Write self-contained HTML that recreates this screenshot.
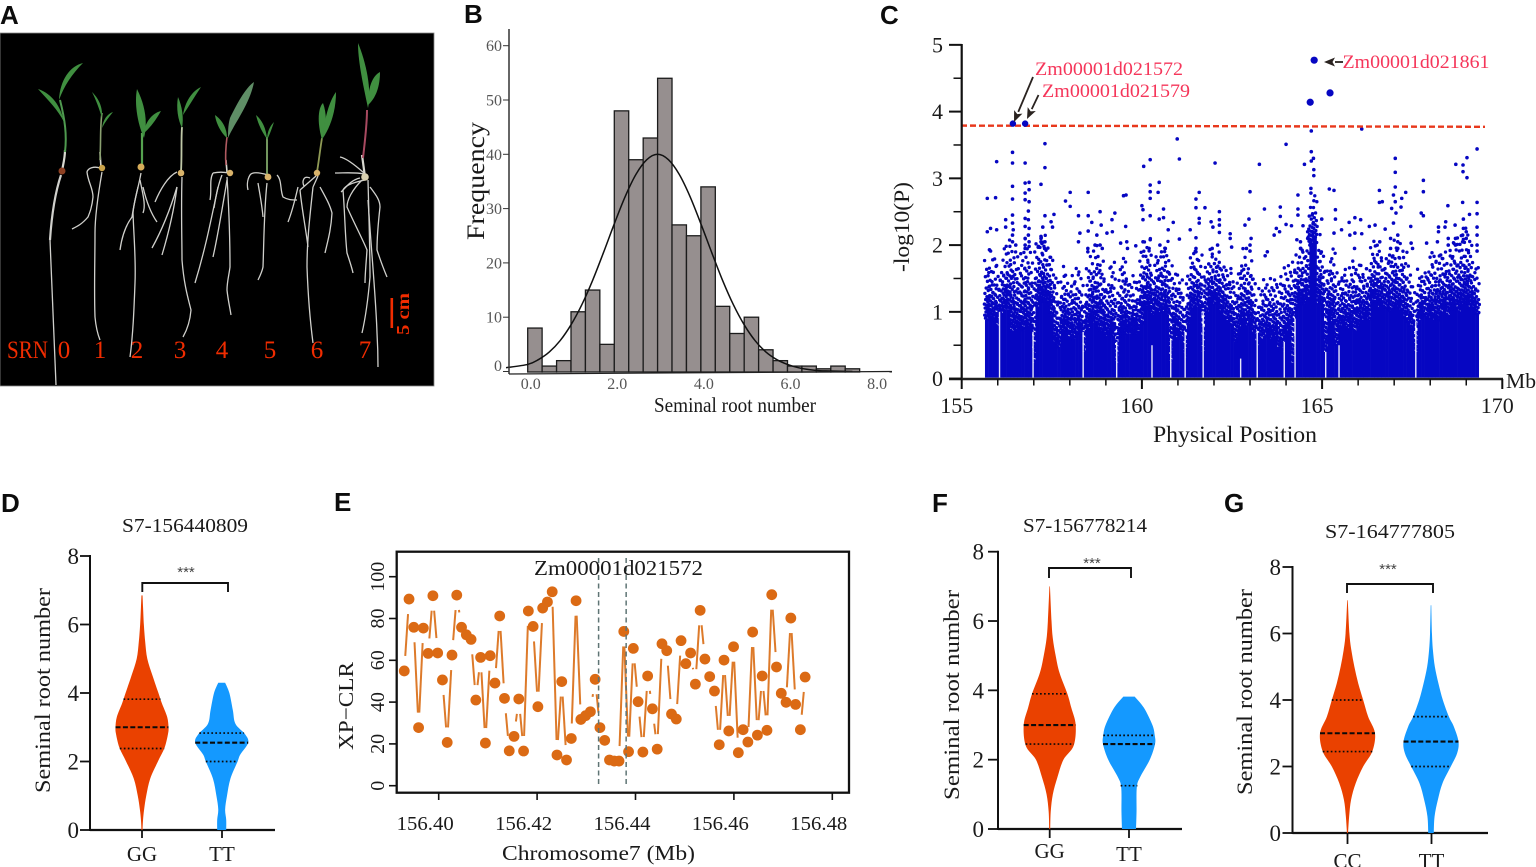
<!DOCTYPE html>
<html lang="en">
<head>
<meta charset="utf-8">
<title>Seminal root number figure</title>
<style>
html,body{margin:0;padding:0;background:#fff;width:1536px;height:867px;overflow:hidden}
svg{display:block}
text{font-family:"Liberation Serif","Noto Serif CJK SC",serif;fill:#1a1a1a}
.panel{font-family:"Liberation Sans",sans-serif;font-weight:700;font-size:26px;fill:#0c0c0c}
.srn{fill:#f02c00;font-size:25px}
.red{fill:#f5365a;font-size:19px}
.root{fill:none;stroke:#d0d0cc;stroke-width:1.3}
.stem{fill:none;stroke:#d8d8d0;stroke-width:2.2}
.leaf{fill:#3f8f41}
</style>
</head>
<body>
<svg id="fig" xmlns="http://www.w3.org/2000/svg" width="1536" height="867" viewBox="0 0 1536 867">
<defs><filter id="soft"><feGaussianBlur stdDeviation="0.35"/></filter></defs>

<text class="panel" x="0" y="24">A</text>
<text class="panel" x="464" y="23">B</text>
<text class="panel" x="880" y="24">C</text>
<text class="panel" x="1" y="512">D</text>
<text class="panel" x="334" y="511">E</text>
<text class="panel" x="932" y="512">F</text>
<text class="panel" x="1224" y="512">G</text>

<!-- Panel A photo -->
<g>
<rect x="0" y="33" width="434" height="353" fill="#000" stroke="#888" stroke-width="0.8"/>
<g filter="url(#soft)">
<g>
<path class="root" style="stroke-width:2.2" d="M61 175C56 190 52 210 50 240"/>
<path class="root" d="M50 240C52 280 54 330 56 385"/>
<path class="stem" d="M65 150C65 158 63 165 62 171"/>
<path d="M65 152C67 135 65 120 60 100" fill="none" stroke="#4f9a50" stroke-width="2"/>
<path class="leaf" d="M38 89C48 92 60 102 64 122C58 110 48 100 38 89Z"/>
<path class="leaf" d="M83 63C70 66 60 80 59 100C64 86 72 74 83 63Z"/>
<circle cx="62" cy="171" r="3.5" fill="#8e3f22"/>
</g>
<g>
<path class="root" d="M102 172C98 195 95 215 95 233C95 260 94 290 95 317C96 328 98 335 100 340"/>
<path class="root" d="M100 168C94 166 88 168 87 172C88 182 93 188 93 197C92 207 90 212 88 217C82 224 78 226 72 229"/>
<path class="stem" style="stroke-width:1.6" d="M100 152L101 168"/>
<path d="M100 160C101 140 100 125 102 113" fill="none" stroke="#8aa070" stroke-width="1.6"/>
<path class="leaf" d="M92 92C98 98 103 106 102 118C99 108 96 100 92 92Z"/>
<path class="leaf" d="M113 112C107 114 103 120 102 128C105 122 109 117 113 112Z"/>
<circle cx="102" cy="168" r="3.2" fill="#c9a24a"/>
</g>
<g>
<path class="root" d="M141 173C138 190 134 200 133 213C134 240 136 260 135 283C134 310 133 335 130 357"/>
<path class="root" d="M138 187C135 200 133 210 132 217C126 225 122 235 120 250"/>
<path class="root" d="M143 187C146 200 150 212 157 222"/>
<path class="root" d="M140 180C143 195 146 205 143 213"/>
<path d="M142 165L142 133" stroke="#54a24f" stroke-width="2.2" fill="none"/>
<path class="leaf" d="M137 89C134 104 138 125 144 138C148 122 145 105 137 89Z"/>
<path class="leaf" d="M161 111C153 113 146 120 143 134C150 128 156 120 161 111Z"/>
<circle cx="141" cy="167" r="3.5" fill="#d6ad5a"/>
</g>
<g>
<path class="root" d="M182 177C181 210 182 240 182 260C184 285 188 298 191 310C190 322 187 330 183 337"/>
<path class="root" d="M177 187C170 210 162 230 152 248"/>
<path class="root" d="M177 187C174 210 168 235 162 255"/>
<path class="root" d="M177 172C168 176 160 190 155 202"/>
<path d="M181 172C182 155 181 140 182 127" fill="none" stroke="#c0c8a8" stroke-width="1.8"/>
<path class="leaf" d="M178 97C176 108 178 120 182 128C184 118 182 106 178 97Z"/>
<path class="leaf" d="M201 87C192 91 185 102 183 115C189 106 195 96 201 87Z"/>
<circle cx="181" cy="173" r="3.3" fill="#d9b36a"/>
</g>
<g>
<path class="root" d="M227 177C229 210 230 240 230 267C229 275 227 282 227 290C228 300 230 308 231 315"/>
<path class="root" d="M218 187C210 225 205 250 195 283"/>
<path class="root" d="M227 180C222 210 218 235 213 257"/>
<path class="root" d="M213 173C209 180 212 190 210 200"/>
<path class="root" d="M222 175C218 185 216 195 214 208"/>
<path class="root" d="M213 173C218 172 224 172 229 173"/>
<path class="stem" style="stroke-width:1.6" d="M226 160L227 172"/>
<path d="M226 165C225 155 226 145 227 137" fill="none" stroke="#b05a60" stroke-width="1.6"/>
<path class="leaf" d="M215 115C216 124 222 134 227 138C227 128 222 120 215 115Z"/>
<path d="M254 82C245 88 236 106 230 118C228 125 228 132 228 138C234 124 250 104 254 82Z" fill="#5f8e66"/>
<circle cx="230" cy="173" r="3.2" fill="#d9b36a"/>
</g>
<g>
<path class="root" d="M267 183C264 210 264 240 263 267C262 272 260 276 258 280"/>
<path class="root" d="M268 175C258 172 252 172 250 175C247 180 247 186 248 190"/>
<path class="root" d="M277 175C282 180 280 190 283 197C288 200 292 200 297 200"/>
<path class="root" d="M258 183C260 195 262 205 263 217"/>
<path d="M267 175L267 137" stroke="#7fa867" stroke-width="1.8" fill="none"/>
<path class="leaf" d="M256 115C258 124 262 132 267 139C266 128 262 120 256 115Z"/>
<path class="leaf" d="M274 122C270 126 267 132 267 140C270 134 272 128 274 122Z"/>
<circle cx="268" cy="177" r="3.4" fill="#d9b36a"/>
</g>
<g>
<path class="root" d="M313 187C310 215 307 240 307 267C308 295 310 320 313 343"/>
<path class="root" d="M300 190C302 210 306 230 308 247"/>
<path class="root" d="M298 187C295 200 292 212 288 222"/>
<path class="root" d="M320 187C326 198 330 205 332 213C331 230 328 240 325 253"/>
<path class="root" d="M310 178C303 175 302 182 304 186"/>
<path class="root" d="M316 176L300 190"/>
<path class="root" d="M318 176L313 187"/>
<path d="M317 172C319 160 320 150 322 138" fill="none" stroke="#8f9a55" stroke-width="1.8"/>
<path class="leaf" d="M323 103C318 108 317 122 322 140C327 128 327 114 323 103Z"/>
<path class="leaf" d="M336 92C330 100 324 118 323 138C331 126 336 110 336 92Z"/>
<circle cx="317" cy="173" r="3.2" fill="#d9b36a"/>
</g>
<g>
<path class="root" d="M368 180C369 220 370 250 370 277C368 300 365 320 362 333"/>
<path class="root" d="M368 200C372 260 376 300 377 333C378 350 378 360 378 367"/>
<path class="root" d="M365 180C355 182 345 185 343 190C345 215 345 235 347 253C350 262 352 268 353 273"/>
<path class="root" d="M362 180C352 190 347 200 347 207C355 225 363 240 367 250C366 265 365 275 365 283"/>
<path class="root" d="M370 187C376 195 380 200 380 207C378 225 377 240 377 250C381 262 384 270 387 277"/>
<path class="root" d="M364 173C355 165 346 158 340 157"/>
<path class="root" d="M364 174C355 172 345 173 335 173"/>
<path class="root" d="M360 178C350 180 344 190 341 192"/>
<path class="stem" d="M362 155L365 177"/>
<path d="M363 158C365 140 367 125 367 110" fill="none" stroke="#a84a60" stroke-width="2"/>
<path class="leaf" d="M358 43C358 60 362 80 368 108C372 90 366 62 358 43Z"/>
<path class="leaf" d="M380 72C372 76 368 88 368 105C376 98 380 86 380 72Z"/>
<circle cx="365" cy="177" r="3.8" fill="#d8d0b0"/>
</g>
</g>
<text class="srn" x="7" y="358" textLength="41" lengthAdjust="spacingAndGlyphs">SRN</text>
<text class="srn" x="64" y="358" text-anchor="middle">0</text>
<text class="srn" x="100" y="358" text-anchor="middle">1</text>
<text class="srn" x="137" y="358" text-anchor="middle">2</text>
<text class="srn" x="180" y="358" text-anchor="middle">3</text>
<text class="srn" x="222" y="358" text-anchor="middle">4</text>
<text class="srn" x="270" y="358" text-anchor="middle">5</text>
<text class="srn" x="317" y="358" text-anchor="middle">6</text>
<text class="srn" x="365" y="358" text-anchor="middle">7</text>
<rect x="390.5" y="298" width="2.6" height="30" fill="#f02c00"/>
<text x="409" y="335" transform="rotate(-90 409 335)" style="fill:#f02c00;font-size:18px;font-weight:700" textLength="42" lengthAdjust="spacingAndGlyphs">5 cm</text>
</g>

<!-- Panel B labels -->
<g id="panelB">
<text x="484" y="240" transform="rotate(-90 484 240)" style="font-size:25px" textLength="118" lengthAdjust="spacingAndGlyphs">Frequency</text>
<text x="654" y="412" style="font-size:21px" textLength="162" lengthAdjust="spacingAndGlyphs">Seminal root number</text>
</g>

<!-- Panel C labels -->
<g id="panelC">
<text x="909" y="272" transform="rotate(-90 909 272)" style="font-size:22px" textLength="90" lengthAdjust="spacingAndGlyphs">-log10(P)</text>
<text x="1153" y="442" style="font-size:23px" textLength="164" lengthAdjust="spacingAndGlyphs">Physical Position</text>
<text x="1506" y="388" style="font-size:21px" textLength="30" lengthAdjust="spacingAndGlyphs">Mb</text>
</g>

<!-- Panel E labels -->
<g id="panelE">
<text x="353" y="750" transform="rotate(-90 353 750)" style="font-size:21px" textLength="88" lengthAdjust="spacingAndGlyphs">XP−CLR</text>
<text x="502" y="860" style="font-size:21px" textLength="193" lengthAdjust="spacingAndGlyphs">Chromosome7 (Mb)</text>
</g>

<!-- Violin panel titles -->
<g id="panelD">
<text x="122" y="532" style="font-size:20px" textLength="126" lengthAdjust="spacingAndGlyphs">S7-156440809</text>
<text x="50" y="793" transform="rotate(-90 50 793)" style="font-size:22px" textLength="205" lengthAdjust="spacingAndGlyphs">Seminal root number</text>
</g>
<g id="panelF">
<text x="1023" y="532" style="font-size:20px" textLength="124" lengthAdjust="spacingAndGlyphs">S7-156778214</text>
<text x="959" y="800" transform="rotate(-90 959 800)" style="font-size:22px" textLength="210" lengthAdjust="spacingAndGlyphs">Seminal root number</text>
</g>
<g id="panelG">
<text x="1325" y="538" style="font-size:20px" textLength="130" lengthAdjust="spacingAndGlyphs">S7-164777805</text>
<text x="1252" y="795" transform="rotate(-90 1252 795)" style="font-size:22px" textLength="206" lengthAdjust="spacingAndGlyphs">Seminal root number</text>
</g>
</svg>

<script>
/* ---------- Panel B data ---------- */
const histBins = [0,0.333,0.667,1,1.333,1.667,2,2.333,2.667,3,3.333,3.667,4,4.333,4.667,5,5.333,5.667,6,6.333,6.667,7,7.333];
const histCounts = [8,1,2,11,15,5,48,39,43,54,27,25,34,12,7,10,4,2,1,1,0.5,1,0.5];
const histBinWidth = 0.333;
const fitX = [-0.5,0,0.25,0.5,0.75,1,1.25,1.5,1.75,2,2.25,2.5,2.75,3,3.25,3.5,3.75,4,4.25,4.5,4.75,5,5.25,5.5,5.75,6,6.25,6.5,6.75,7,7.5];
const fitY = [0.7,1.3,2.2,3.6,5.7,8.6,12.3,16.8,21.9,27.2,32.2,36.3,39,40,39,36.3,32.2,27.2,21.9,16.8,12.3,8.6,5.7,3.6,2.2,1.3,0.7,0.35,0.15,0.1,0];
const histYTicks = [0,10,20,30,40,50,60];
const histXTicks = ["0.0","2.0","4.0","6.0","8.0"];

/* ---------- Panel C data ---------- */
const columnMb = [155.7,155.8,155.9,156.0,156.1,156.2,156.3,156.4,156.5,156.6,
156.7,156.8,156.9,157.0,157.1,157.2,157.3,157.4,157.5,157.6,
157.7,157.8,157.9,158.0,158.1,158.2,158.3,158.4,158.5,158.6,
158.7,158.8,158.9,159.0,159.1,159.2,159.3,159.4,159.5,159.6,
159.7,159.8,159.9,160.0,160.1,160.2,160.3,160.4,160.5,160.6,
160.7,160.8,160.9,161.0,161.1,161.2,161.3,161.4,161.5,161.6,
161.7,161.8,161.9,162.0,162.1,162.2,162.3,162.4,162.5,162.6,
162.7,162.8,162.9,163.0,163.1,163.2,163.3,163.4,163.5,163.6,
163.7,163.8,163.9,164.0,164.1,164.2,164.3,164.4,164.5,164.6,
164.7,164.8,164.9,165.0,165.1,165.2,165.3,165.4,165.5,165.6,
165.7,165.8,165.9,166.0,166.1,166.2,166.3,166.4,166.5,166.6,
166.7,166.8,166.9,167.0,167.1,167.2,167.3,167.4,167.5,167.6,
167.7,167.8,167.9,168.0,168.1,168.2,168.3,168.4,168.5,168.6,
168.7,168.8,168.9,169.0,169.1,169.2,169.3];
const columnDense = [1.1,1.15,1.1,1.0,1.2,1.3,1.3,.9,.9,1.0,
.9,1.1,1.0,.3,1.35,1.45,1.45,1.4,1.2,.7,
.6,.9,.95,.75,.75,.85,.85,.5,.95,1.1,
1.05,.95,.9,.8,.85,.8,.3,.8,.9,.85,
.85,.85,.9,1.05,1.3,1.35,1.2,1.3,1.25,1.25,
1.2,.3,1.0,.75,.75,.4,1.0,1.3,1.35,1.35,
.5,1.25,1.45,1.4,1.45,1.25,1.15,1.1,1.0,.7,
.95,1.05,1.0,1.1,.85,.55,.75,.8,.9,.75,
.8,.6,.5,.9,1.0,.3,1.35,1.4,1.4,1.5,
2.5,2.65,1.4,1.4,.5,1.25,1.05,.65,.95,1.1,
.95,1.05,.9,1.0,1.1,1.2,1.1,1.4,1.45,1.35,
1.35,1.3,1.25,1.35,1.35,1.3,1.15,1.05,.95,.5,
1.1,1.2,1.15,1.15,1.1,1.1,1.25,1.35,1.2,1.3,
1.35,1.25,1.4,1.4,1.35,1.35,1.2];
const columnSparse = [1.85,1.95,1.8,1.7,1.7,1.95,2.1,2.1,1.95,1.8,
1.9,2.1,1.9,1.6,2.1,2.2,2.25,2.0,1.95,1.6,
1.3,1.6,1.7,1.5,1.6,1.65,1.65,1.25,1.75,1.9,
2.0,1.95,1.9,1.55,1.7,1.8,1.25,1.65,1.9,1.6,
1.55,1.45,1.5,2.05,1.95,2.2,1.65,1.9,1.9,2.05,
2.1,1.75,1.7,1.6,1.55,1.2,1.8,1.9,1.95,1.9,
1.55,1.8,2.0,1.9,1.95,1.8,1.8,1.75,1.6,1.45,
1.75,1.95,1.8,1.8,1.6,1.1,1.4,1.55,1.55,1.5,
1.5,1.5,1.7,1.6,1.7,1.8,1.9,2.0,1.95,2.2,
2.75,2.8,2.2,2.0,1.7,1.8,2.05,1.6,1.6,1.75,
1.6,1.8,1.7,1.8,1.7,1.7,1.7,2.1,2.1,2.05,
1.8,1.95,1.95,2.1,2.05,2.0,1.9,1.7,1.4,1.3,
1.65,1.7,1.6,1.9,1.95,1.9,1.9,1.9,1.95,2.1,
2.15,2.05,2.2,2.3,2.1,1.7,1.7];
const gapMb = [156.05,156.98,158.37,159.3,160.28,160.8,161.2,161.7,162.74,163.2,163.95,164.25,165.1,165.47,167.6];
const gapTop = [1.0,.7,.7,.55,.5,.6,.7,1.0,.3,.7,.55,.9,.4,.5,.85];
const looseMb = [155.71,155.71,155.80,155.77,155.97,155.94,155.97,156.22,156.22,156.41,
156.41,156.41,156.41,156.41,156.41,156.43,156.76,156.76,156.76,156.76,
156.76,156.76,156.76,156.87,156.87,156.87,156.87,156.85,156.85,156.85,
157.20,157.20,157.31,157.31,157.31,157.31,157.25,157.52,157.56,157.48,
157.13,157.88,158.01,158.01,158.24,158.24,158.28,158.51,158.51,158.51,
158.61,158.84,158.84,158.87,158.75,159.03,159.17,159.25,159.18,159.55,
159.49,159.56,159.58,159.41,159.83,160.00,160.05,160.23,160.23,160.23,
160.23,160.23,160.23,160.03,160.03,160.03,160.98,161.04,160.48,160.45,
160.60,160.60,160.48,160.87,160.73,161.04,161.34,162.03,161.59,161.50,
161.50,161.75,161.59,161.59,161.92,161.97,162.15,162.15,162.15,162.15,
161.50,162.45,162.45,162.49,162.97,162.86,163.00,163.00,163.03,163.26,
163.40,163.84,163.84,163.73,163.82,163.67,164.00,164.00,164.15,164.51,
164.70,164.70,164.76,164.70,164.77,164.77,164.33,164.33,164.33,164.47,
164.99,165.20,164.69,164.69,164.30,163.48,163.42,165.33,165.37,165.37,
165.54,165.33,165.75,165.91,166.07,165.77,165.91,166.10,166.31,166.47,
166.59,166.59,166.67,166.75,167.03,167.03,167.03,167.03,166.98,167.21,
167.32,167.19,166.93,167.05,166.98,167.46,167.47,167.51,167.81,167.81,
167.75,167.81,167.90,168.49,168.43,168.23,168.23,168.41,168.69,168.71,
168.91,168.91,169.02,169.02,168.90,169.30,169.30,169.30,169.30,169.30,
169.30,169.30,169.09,168.92,168.92,166.10,
156.41,156.41,156.5,156.76,156.76,156.87,156.87,157.2,157.2,157.3,
158.5,158.5,158.7,158.9,159.6,160.2,160.5,160.65,161.5,161.5,
161.95,162.1,162.9,163.0,164.4,164.4,164.6,164.6,165.9,166.6,
166.9,166.9,167.1,167.1,167.1,168.2,168.5,168.5,168.7,168.7,
168.9,168.9,169.0,169.0];
const looseP = [2.70,2.20,2.25,1.93,3.25,2.71,2.23,2.38,2.27,3.39,
3.23,2.88,2.69,2.45,2.33,2.23,3.23,2.93,2.78,2.68,
2.40,2.28,2.10,2.94,2.83,2.65,2.25,2.51,2.38,2.15,
2.91,2.13,3.52,3.16,2.44,2.05,2.27,2.27,2.46,2.35,
1.98,2.66,2.79,2.58,2.44,2.05,2.18,2.79,2.44,2.21,
2.34,2.50,2.00,2.30,2.15,2.18,2.38,2.48,2.20,2.28,
2.74,2.75,2.05,2.03,1.99,2.59,3.18,3.28,2.90,2.80,
2.70,2.44,2.08,2.53,2.38,2.05,3.59,3.29,2.94,2.79,
2.54,2.41,2.39,2.34,2.23,2.09,2.23,3.23,2.79,2.69,
2.56,2.56,2.40,2.33,2.35,2.27,2.50,2.38,2.30,2.19,
2.11,2.17,2.10,1.97,2.39,2.30,2.80,1.91,2.10,3.21,
2.54,2.57,2.43,2.25,2.20,2.15,3.51,2.31,2.29,3.21,
3.71,3.40,3.30,3.26,3.13,3.04,2.75,2.54,2.45,2.29,
2.39,2.84,2.85,2.78,2.08,1.90,1.84,2.82,2.53,2.39,
2.23,2.18,2.34,2.41,2.38,2.15,2.18,2.17,2.28,2.30,
2.82,2.64,2.65,2.24,3.30,3.09,2.87,2.65,2.75,2.70,
2.79,2.57,2.55,2.48,2.33,2.28,2.03,1.95,2.97,2.80,
2.48,2.44,2.03,2.59,2.35,2.27,2.20,2.27,2.30,3.21,
3.20,3.10,3.31,3.01,2.64,3.44,2.64,2.47,2.27,2.15,
2.00,1.91,2.46,2.39,2.25,3.74,
2.15,2.05,2.0,2.0,1.95,2.05,1.98,2.05,2.1,1.95,
1.95,1.9,2.0,1.95,1.95,1.95,2.0,1.95,1.95,1.9,
1.95,2.0,1.95,2.0,2.05,1.95,2.1,2.2,1.95,2.05,
2.1,1.95,2.15,2.05,1.95,2.05,2.0,2.1,2.1,2.0,
2.15,2.05,2.2,2.1];
const leadMb = [156.42,156.76,164.78,165.22,164.67];
const leadP = [3.82,3.82,4.77,4.28,4.14];
const manhattanYTicks = [0,1,2,3,4,5];
const manhattanXTicks = [155,160,165,170];

/* ---------- Panel E data ---------- */
const xpclrPos = [156.39300,156.39397,156.39494,156.39591,156.39688,156.39785,156.39882,156.39979,156.40076,156.40173,
156.40270,156.40367,156.40464,156.40561,156.40658,156.40755,156.40852,156.40949,156.41046,156.41143,
156.41240,156.41337,156.41434,156.41531,156.41628,156.41725,156.41822,156.41919,156.42016,156.42113,
156.42210,156.42307,156.42404,156.42501,156.42598,156.42695,156.42792,156.42889,156.42986,156.43083,
156.43180,156.43277,156.43374,156.43471,156.43568,156.43665,156.43762,156.43859,156.43956,156.44053,
156.44150,156.44247,156.44344,156.44441,156.44538,156.44635,156.44732,156.44829,156.44926,156.45023,
156.45120,156.45217,156.45314,156.45411,156.45508,156.45605,156.45702,156.45799,156.45896,156.45993,
156.46090,156.46187,156.46284,156.46381,156.46478,156.46575,156.46672,156.46769,156.46866,156.46963,
156.47060,156.47157,156.47254,156.47351,156.47448];
const xpclrValues = [54.9,89.3,75.8,27.8,75.4,63.3,90.9,63.5,50.6,20.7,
62.5,91.2,75.8,72.2,70,41,61.4,20.4,62.2,49.1,
81.2,41.8,16.7,23.6,41.5,16.6,83.6,76.2,37.8,85,
87.9,92.8,14.7,49.8,12.3,22.6,88.5,31.7,33.5,35.4,
50.9,27.8,21.7,12.3,11.8,11.8,73.8,16.3,65.7,40.2,
16.1,52.5,36.8,17.5,67.9,64.6,34.3,31.9,69.4,58.4,
63.5,48.6,83.9,60.6,52.2,45.3,19.6,60.1,26.2,66.5,
15.8,26.8,20.9,73.5,24.2,52.5,26.5,91.4,56.8,44.2,
39.9,80.2,38.9,26.8,52];
const xpclrXTicks = [156.40,156.42,156.44,156.46,156.48];
const xpclrXLabels = ["156.40","156.42","156.44","156.46","156.48"];
const xpclrYTicks = [0,20,40,60,80,100];
const xpclrRegion = [156.4325,156.4381];

/* ---------- Violin data ---------- */
const violinTicks = [0,2,4,6,8];
const dGGLevels = [0,0.3,0.6,1,1.5,2,2.4,2.8,3,3.3,3.7,4,4.5,5,5.5,6,6.5,6.85];
const dGGDensity = [.02,.04,.08,.16,.31,.6,.85,.98,1,.95,.75,.62,.4,.2,.12,.07,.04,.02];
const dGGQuartiles = [2.38,3.0,3.82];
const dTTLevels = [0,0.3,0.6,1,1.5,2,2.2,2.55,2.8,3.1,3.5,4,4.3];
const dTTDensity = [.17,.17,.13,.2,.33,.6,.7,1,.88,.52,.42,.29,.13];
const dTTQuartiles = [2.0,2.55,2.83];
const fGGLevels = [0,0.5,1,1.5,2,2.4,3,3.5,3.9,4.5,5,5.5,6,7];
const fGGDensity = [.02,.04,.12,.3,.53,.92,1,.83,.68,.38,.23,.12,.07,.01];
const fGGQuartiles = [2.45,3.0,3.9];
const fTTLevels = [0,0.5,1.2,1.5,2,2.45,2.7,3,3.5,3.82];
const fTTDensity = [.27,.29,.3,.43,.8,1,.99,.9,.57,.22];
const fTTQuartiles = [1.25,2.45,2.7];
const gCCLevels = [0,0.5,1,1.5,2,2.45,3,3.5,4,4.5,5,5.5,6,7];
const gCCDensity = [.02,.06,.13,.3,.57,.9,1,.75,.57,.39,.25,.14,.07,.01];
const gCCQuartiles = [2.45,3.0,4.0];
const gTTLevels = [0,0.5,1,1.5,2,2.4,2.75,3.2,3.5,4,4.5,5,5.5,6,6.85];
const gTTDensity = [.1,.13,.25,.42,.72,.95,1,.83,.65,.43,.27,.14,.07,.035,.01];
const gTTQuartiles = [2.0,2.75,3.5];

/* ---------- helpers ---------- */
const NS = "http://www.w3.org/2000/svg";
function mk(parent, tag, attrs, txt){
  const el = document.createElementNS(NS, tag);
  for (const k in attrs) el.setAttribute(k, attrs[k]);
  if (txt !== undefined) el.textContent = txt;
  parent.appendChild(el);
  return el;
}
function smooth(pts){
  let d = "M" + pts[0][0].toFixed(2) + " " + pts[0][1].toFixed(2);
  for (let i = 0; i < pts.length - 1; i++){
    const p0 = pts[Math.max(i-1,0)], p1 = pts[i], p2 = pts[i+1], p3 = pts[Math.min(i+2,pts.length-1)];
    d += "C" + (p1[0]+(p2[0]-p0[0])/6).toFixed(2) + " " + (p1[1]+(p2[1]-p0[1])/6).toFixed(2) + " " +
         (p2[0]-(p3[0]-p1[0])/6).toFixed(2) + " " + (p2[1]-(p3[1]-p1[1])/6).toFixed(2) + " " +
         p2[0].toFixed(2) + " " + p2[1].toFixed(2);
  }
  return d;
}
function interp(xs, ys, x){
  for (let i = 0; i < xs.length - 1; i++){
    if (x >= xs[i] && x <= xs[i+1]) return ys[i] + (ys[i+1]-ys[i])*(x-xs[i])/(xs[i+1]-xs[i]);
  }
  return 0;
}

/* ---------- Panel B ---------- */
(function(){
  const g = document.getElementById("panelB");
  const bx = v => 527.7 + 43.3*v;
  const by = v => 371.5 - 5.43*v;
  histBins.forEach((b,i) => {
    const r = mk(g,"rect",{x:bx(b),y:by(histCounts[i]),width:bx(b+histBinWidth)-bx(b),height:372-by(histCounts[i]),fill:"#968f8f",stroke:"#1c1c1c","stroke-width":1.3});
    
    
  });
  const curve = mk(g,"path",{d:smooth(fitX.map((x,i)=>[bx(x),by(fitY[i])])),fill:"none",stroke:"#111","stroke-width":1.5});
  
  
  const ya = mk(g,"line",{x1:509,y1:29,x2:509,y2:374,stroke:"#333","stroke-width":1.5});
  
  
  const xa = mk(g,"line",{x1:509,y1:374,x2:892,y2:371.5,stroke:"#222","stroke-width":1.2});
  
  
  histYTicks.forEach(t => {
    const y = by(t);
    const tk = mk(g,"line",{x1:503,y1:y,x2:509,y2:y,stroke:"#333","stroke-width":1});
    
    
    const tl = mk(g,"text",{x:502,y:(t===0?y-6:y)+5.5,"text-anchor":"end",style:"font-size:16px;fill:#555"},String(t));
    
    
  });
  histXTicks.forEach((t,i) => {
    const tl = mk(g,"text",{x:bx(parseFloat(t))+3,y:389,"text-anchor":"middle",style:"font-size:16px;fill:#555"},t);
    
    
  });
})();

/* ---------- Panel C ---------- */
(function(){
  const g = document.getElementById("panelC");
  const mx = v => 961.7 + 36.04*(v-155);
  const my = v => 378.6 - 66.75*v;
  const blue = "#0606c2";
  const wob = n => (n*0.6180339) % 1;
  const wob2 = n => (n*0.7548777) % 1;
  let n = 1;
  columnMb.forEach((m,i) => {
    const rodTop = columnDense[i]*0.8;
    const c = mk(g,"line",{x1:mx(m),y1:my(0)-1,x2:mx(m),y2:my(rodTop),stroke:blue,"stroke-width":3.9});
    
    
    let p = rodTop;
    while (p < columnSparse[i]){
      const frac = (p-rodTop)/Math.max(columnSparse[i]-rodTop,0.01);
      const d = mk(g,"circle",{cx:mx(m)+(wob(n)-0.5)*5.4,cy:my(p),r:1.7,fill:blue});
      
      
      p += (0.02 + 0.12*frac*frac)*(0.45+1.1*wob2(n));
      n++;
    }
  });
  gapMb.forEach((m,i) => {
    const w = mk(g,"line",{x1:mx(m),y1:my(0)-1,x2:mx(m),y2:my(gapTop[i]),stroke:"#fff","stroke-width":1.4,"stroke-opacity":0.9});
    
    
  });
  looseMb.forEach((m,i) => {
    const d = mk(g,"circle",{cx:mx(m),cy:my(looseP[i]),r:1.8,fill:blue});
    
    
  });
  const thr = mk(g,"line",{x1:961,y1:125.6,x2:1485,y2:126.8,stroke:"#e8381c","stroke-width":2.4,"stroke-dasharray":"6 3"});
  
  
  leadMb.forEach((m,i) => {
    const d = mk(g,"circle",{cx:mx(m),cy:my(leadP[i]),r:i<2?3.2:3.6,fill:blue});
    
    
  });
  const ya = mk(g,"line",{x1:961.7,y1:44,x2:961.7,y2:380,stroke:"#111","stroke-width":2.2});
  
  
  const xa = mk(g,"line",{x1:949,y1:379,x2:1503,y2:379,stroke:"#222","stroke-width":2.4});
  
  
  for (let v = 0; v <= 5; v += 0.5){
    const major = Number.isInteger(v);
    const t = mk(g,"line",{x1:major?949:953.5,y1:my(v),x2:961.7,y2:my(v),stroke:"#111","stroke-width":major?2:1.5});
    
    
  }
  manhattanYTicks.forEach(v => {
    const l = mk(g,"text",{x:943,y:my(v)+7.5,"text-anchor":"end",style:"font-size:22px"},String(v));
    
    
  });
  for (let v = 155; v <= 170; v++){
    const major = v % 5 === 0;
    const t = mk(g,"line",{x1:mx(v),y1:379,x2:mx(v),y2:major?389:385.5,stroke:"#111","stroke-width":major?2:1.5});
    
    
  }
  manhattanXTicks.forEach(v => {
    const l = mk(g,"text",{x:mx(v)-5,y:413,"text-anchor":"middle",style:"font-size:22px"},String(v));
    
    
  });
  const labels = [["Zm00001d021572",1035,75,148],["Zm00001d021579",1042,97,148],["Zm00001d021861",1342.5,68,147]];
  labels.forEach(a => {
    const l = mk(g,"text",{class:"red",x:a[1],y:a[2],textLength:a[3],lengthAdjust:"spacingAndGlyphs"},a[0]);
    
    
  });
  const arrows = [[1033,77,1014,122],[1038.5,95,1027,119],[1343,62,1324,62]];
  arrows.forEach(a => {
    const dx = a[2]-a[0], dy = a[3]-a[1], len = Math.hypot(dx,dy), ux = dx/len, uy = dy/len;
    const bx = a[2]-ux*11, by = a[3]-uy*11;
    const s = mk(g,"line",{x1:a[0],y1:a[1],x2:bx,y2:by,stroke:"#2a2320","stroke-width":1.8});
    
    
    const h = mk(g,"polygon",{points:a[2]+","+a[3]+" "+(bx-uy*4.5)+","+(by+ux*4.5)+" "+(bx+ux*2.5)+","+(by+uy*2.5)+" "+(bx+uy*4.5)+","+(by-ux*4.5),fill:"#2a2320"});
    
    
  });
})();

/* ---------- Panel E ---------- */
(function(){
  const g = document.getElementById("panelE");
  const ex = v => 438.7 + 4920*(v-156.40);
  const ey = v => 785.7 - 2.09*v;
  const frame = mk(g,"rect",{x:396.7,y:551.7,width:452.3,height:241,fill:"none",stroke:"#111","stroke-width":2.3});
  
  
  const gap = 15;
  for (let i = 0; i < xpclrPos.length-1; i++){
    const x1 = ex(xpclrPos[i]), y1 = ey(xpclrValues[i]), x2 = ex(xpclrPos[i+1]), y2 = ey(xpclrValues[i+1]);
    const len = Math.hypot(x2-x1,y2-y1);
    if (len <= gap*2) continue;
    const ux = (x2-x1)/len, uy = (y2-y1)/len;
    const s = mk(g,"line",{x1:x1+ux*gap,y1:y1+uy*gap,x2:x2-ux*gap,y2:y2-uy*gap,stroke:"#dd7a2a","stroke-width":2});
    
    
  }
  xpclrPos.forEach((p,i) => {
    const c = mk(g,"circle",{cx:ex(p),cy:ey(xpclrValues[i]),r:5.4,fill:"#db6a14"});
    
    
  });
  xpclrRegion.forEach(r => {
    const l = mk(g,"line",{x1:ex(r),y1:558,x2:ex(r),y2:785,stroke:"#5f7474","stroke-width":1.5,"stroke-dasharray":"5 3.5"});
    
    
  });
  const t = mk(g,"text",{x:534,y:575,style:"font-size:21px",textLength:169,lengthAdjust:"spacingAndGlyphs"},"Zm00001d021572");
  
  
  xpclrYTicks.forEach(v => {
    const y = ey(v);
    const tk = mk(g,"line",{x1:389,y1:y,x2:396.7,y2:y,stroke:"#111","stroke-width":1.6});
    
    
    const l = mk(g,"text",{x:384,y:y,transform:"rotate(-90 384 "+y+")","text-anchor":"middle",style:"font-size:20px"},String(v));
    
    
  });
  xpclrXTicks.forEach((v,i) => {
    const x = ex(v);
    const tk = mk(g,"line",{x1:x,y1:792.7,x2:x,y2:800,stroke:"#111","stroke-width":1.6});
    
    
    const l = mk(g,"text",{x:x-13.5,y:830,"text-anchor":"middle",style:"font-size:20px",textLength:57,lengthAdjust:"spacingAndGlyphs"},xpclrXLabels[i]);
    
    
  });
})();

/* ---------- Violin panels ---------- */
function drawViolin(g, yScale, cx, levels, density, scale, color, quartiles, name){
  const right = levels.map((l,i)=>[cx+density[i]*scale, yScale(l)]);
  const left = levels.map((l,i)=>[cx-density[i]*scale, yScale(l)]).reverse();
  const v = mk(g,"path",{d:smooth(right)+"L"+left[0][0]+" "+left[0][1]+smooth(left).replace(/^M[^C]*/,"")+"Z",fill:color});
  
  
  quartiles.forEach((q,i) => {
    const hw = interp(levels,density,q)*scale;
    const med = i === 1;
    const l = mk(g,"line",{x1:cx-hw,y1:yScale(q),x2:cx+hw,y2:yScale(q),stroke:"#0a0a0a","stroke-width":med?2.1:1.7,"stroke-dasharray":med?"5 2.4":"1.7 2.3"});
    
    
  });
}
function drawViolinAxes(g, o){
  const y = v => o.y0 - (o.y0-o.y8)*v/8;
  const ya = mk(g,"line",{x1:o.ax,y1:o.y8-1,x2:o.ax,y2:o.y0+1,stroke:"#111","stroke-width":2});
  
  
  const xa = mk(g,"line",{x1:o.ax,y1:o.y0,x2:o.xEnd,y2:o.y0,stroke:"#111","stroke-width":2.2});
  
  
  violinTicks.forEach(v => {
    const tk = mk(g,"line",{x1:o.ax-10,y1:y(v),x2:o.ax,y2:y(v),stroke:"#111","stroke-width":1.8});
    
    
    const l = mk(g,"text",{x:o.labelX,y:y(v)+8,"text-anchor":"end",style:"font-size:23px"},String(v));
    
    
  });
  o.cats.forEach((c,i) => {
    const tk = mk(g,"line",{x1:o.cx[i],y1:o.y0,x2:o.cx[i],y2:o.tickEnd,stroke:"#111","stroke-width":1.8});
    
    
    const l = mk(g,"text",{x:o.cx[i],y:o.catY[i],"text-anchor":"middle",style:"font-size:21px"},c);
    
    
  });
  const b = mk(g,"path",{d:"M"+o.br[0]+" "+o.br[3]+"V"+o.br[2]+"H"+o.br[1]+"V"+o.br[3],fill:"none",stroke:"#111","stroke-width":1.9});
  
  
  const s = mk(g,"text",{x:o.starX,y:o.starY,"text-anchor":"middle",style:'font-size:15px;font-family:"Liberation Sans",sans-serif;fill:#444'},"***");
  
  
  return y;
}
const ORANGE = "#ea4100", BLUE = "#1499ff";
(function(){
  const g = document.getElementById("panelD");
  const y = drawViolinAxes(g,{ax:90,y8:556,y0:830,xEnd:275,labelX:79,cats:["GG","TT"],cx:[142,222],tickEnd:838,catY:[861,861],br:[142.3,228,583,592],starX:186,starY:577});
  drawViolin(g,y,142,dGGLevels,dGGDensity,26.5,ORANGE,dGGQuartiles,"violin-gg");
  drawViolin(g,y,221.7,dTTLevels,dTTDensity,26.5,BLUE,dTTQuartiles,"violin-tt");
})();
(function(){
  const g = document.getElementById("panelF");
  const y = drawViolinAxes(g,{ax:998,y8:551.7,y0:829,xEnd:1182,labelX:984,cats:["GG","TT"],cx:[1049.7,1129],tickEnd:838,catY:[858,861],br:[1049,1131,568,578],starX:1092,starY:568});
  drawViolin(g,y,1049.7,fGGLevels,fGGDensity,26,ORANGE,fGGQuartiles,"violin-gg");
  drawViolin(g,y,1129,fTTLevels,fTTDensity,26,BLUE,fTTQuartiles,"violin-tt");
})();
(function(){
  const g = document.getElementById("panelG");
  const y = drawViolinAxes(g,{ax:1292.5,y8:567,y0:833,xEnd:1488,labelX:1281,cats:["CC","TT"],cx:[1347.5,1431.5],tickEnd:844,catY:[868,868],br:[1347,1433,584,593],starX:1388,starY:574});
  drawViolin(g,y,1347.5,gCCLevels,gCCDensity,27.5,ORANGE,gCCQuartiles,"violin-cc");
  drawViolin(g,y,1431,gTTLevels,gTTDensity,27.5,BLUE,gTTQuartiles,"violin-tt");
})();
</script>
</body>
</html>
